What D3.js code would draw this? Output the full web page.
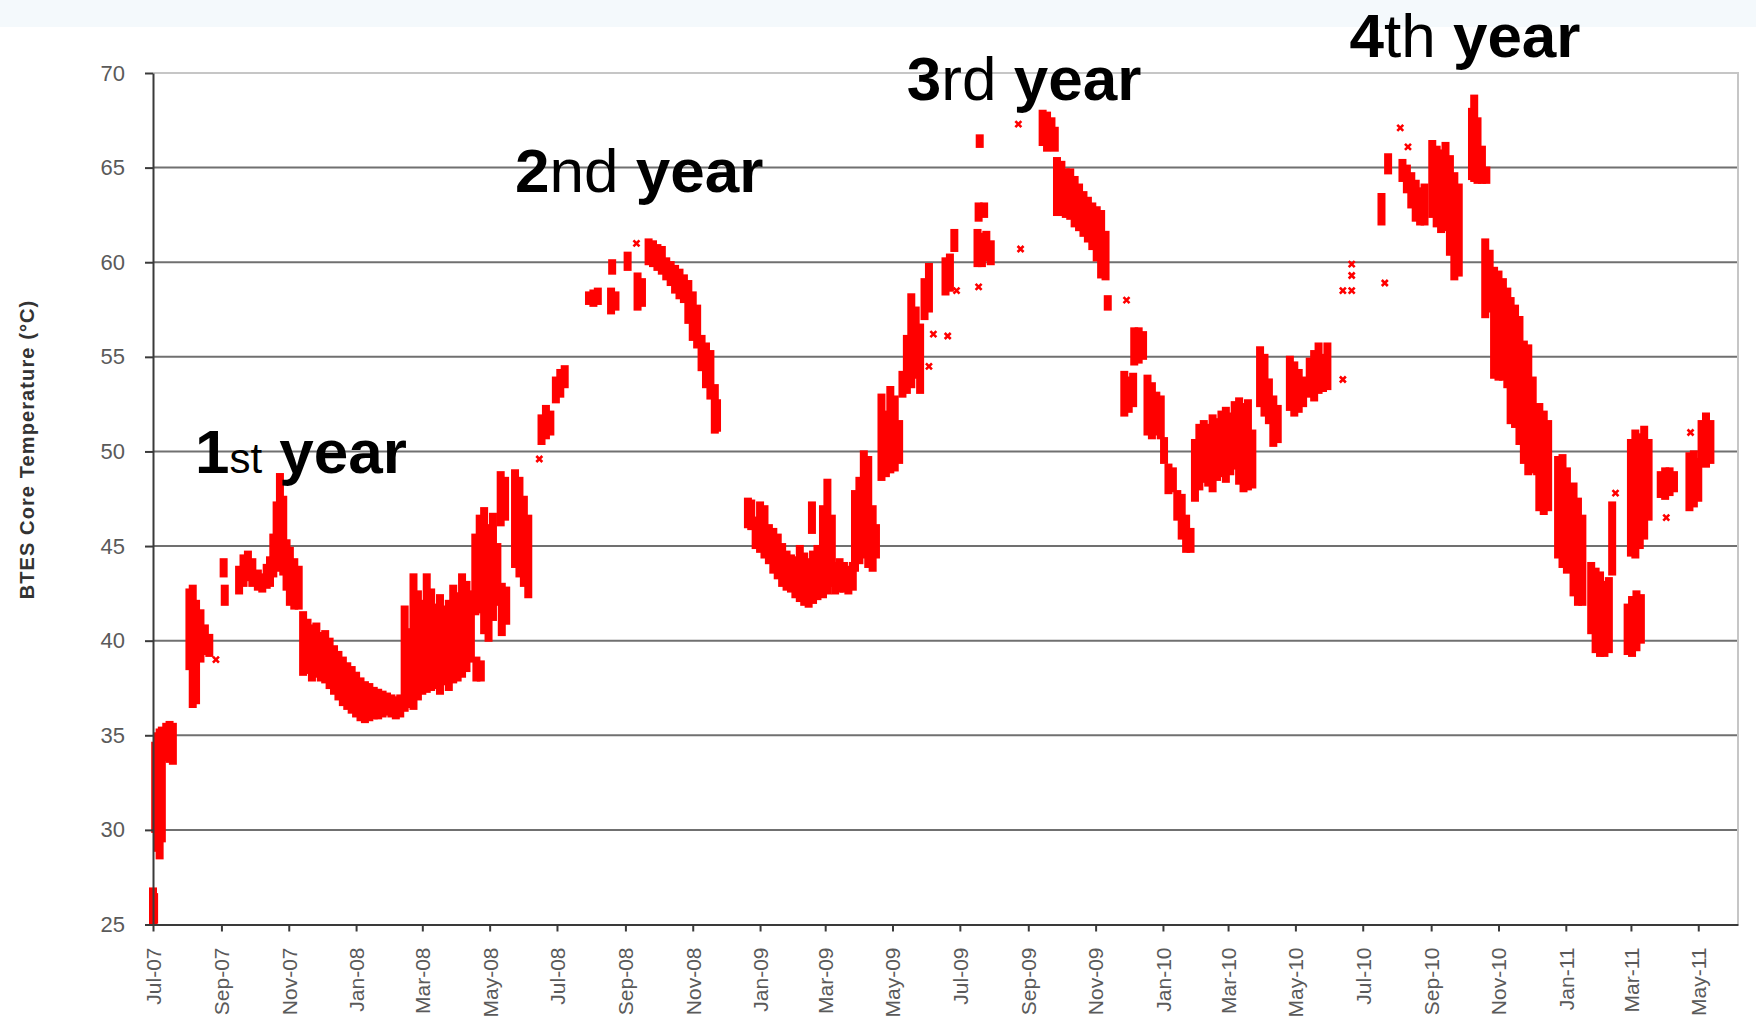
<!DOCTYPE html>
<html>
<head>
<meta charset="utf-8">
<title>BTES Core Temperature</title>
<script src="https://cdn.jsdelivr.net/npm/d3@7"></script>
<style>
  html, body { margin: 0; padding: 0; background: #ffffff; }
  svg { display: block; font-family: "Liberation Sans", Arial, Helvetica, sans-serif; }
</style>
</head>
<body>
<svg id="chart" width="1756" height="1022"></svg>
<script>
// ---- Axis ticks ----
const tempTicks = [25, 30, 35, 40, 45, 50, 55, 60, 65, 70];
const monthTicks = [
  "2007-07-01","2007-09-01","2007-11-01","2008-01-01","2008-03-01","2008-05-01",
  "2008-07-01","2008-09-01","2008-11-01","2009-01-01","2009-03-01","2009-05-01",
  "2009-07-01","2009-09-01","2009-11-01","2010-01-01","2010-03-01","2010-05-01",
  "2010-07-01","2010-09-01","2010-11-01","2011-01-01","2011-03-01","2011-05-01"
];

// ---- Core temperature readings: daily spread (low/high, °C) by season ----
const year1Dates = [
  "2007-07-01","2007-07-02","2007-07-03","2007-07-05","2007-07-07","2007-07-09","2007-07-13","2007-07-16","2007-07-19",
  "2007-08-03","2007-08-06","2007-08-09","2007-08-13","2007-08-17","2007-08-21",
  "2007-09-03","2007-09-04","2007-09-17","2007-09-21","2007-09-25","2007-09-29",
  "2007-10-04","2007-10-08","2007-10-12","2007-10-15","2007-10-18","2007-10-21","2007-10-24","2007-10-27","2007-10-30",
  "2007-11-02","2007-11-06","2007-11-10","2007-11-14","2007-11-18","2007-11-22","2007-11-26","2007-11-30",
  "2007-12-04","2007-12-08","2007-12-12","2007-12-16","2007-12-20","2007-12-24","2007-12-28",
  "2008-01-01","2008-01-05","2008-01-09","2008-01-13","2008-01-17","2008-01-21","2008-01-25","2008-01-29",
  "2008-02-02","2008-02-06","2008-02-10","2008-02-14","2008-02-18","2008-02-22","2008-02-26",
  "2008-03-01","2008-03-05","2008-03-09","2008-03-13","2008-03-17","2008-03-21","2008-03-25","2008-03-29",
  "2008-04-02","2008-04-06","2008-04-10","2008-04-14","2008-04-19","2008-04-23",
  "2008-04-18","2008-04-22","2008-04-26","2008-04-30","2008-05-04","2008-05-08",
  "2008-05-11","2008-05-15","2008-05-12","2008-05-16",
  "2008-05-24","2008-05-28","2008-06-01","2008-06-05",
  "2008-06-17","2008-06-21","2008-06-25","2008-06-30","2008-07-04","2008-07-08"
];
const year1Low = [
  25.1,25.2,30.0,29.0,28.6,29.5,33.8,33.7,33.6,
  38.6,36.6,36.8,39.0,39.4,39.3,
  43.5,42.0,42.6,43.0,43.3,43.0,
  42.8,42.7,42.9,43.0,43.5,44.0,43.8,43.6,42.8,
  42.0,41.8,41.8,38.3,38.4,38.0,38.2,38.0,
  37.9,37.6,37.3,37.0,36.7,36.5,36.3,
  36.1,35.9,35.8,35.9,36.0,36.0,36.1,36.2,
  36.1,36.0,36.1,36.4,36.6,36.5,37.0,
  37.3,37.4,37.5,37.6,37.3,37.8,37.5,37.9,
  38.0,38.2,38.5,39.0,38.0,38.0,
  41.5,41.6,40.5,40.1,41.2,42.0,
  46.2,46.5,40.4,41.0,
  44.0,43.5,43.0,42.4,
  50.5,50.8,51.0,52.7,53.0,53.5
];
const year1High = [
  26.8,26.5,34.5,35.0,35.2,35.3,35.5,35.6,35.5,
  42.6,42.8,42.0,41.5,40.7,40.2,
  44.2,42.8,43.8,44.4,44.6,44.2,
  43.6,43.4,43.9,44.3,45.5,47.2,48.7,47.5,45.2,
  44.8,44.2,43.8,41.4,41.0,40.7,40.8,40.3,
  40.4,40.0,39.6,39.3,39.0,38.7,38.5,
  38.2,37.9,37.7,37.6,37.4,37.3,37.2,37.1,
  37.0,36.9,37.0,41.7,40.5,43.4,42.5,
  42.0,43.4,42.6,41.8,42.3,41.7,42.0,42.8,
  42.4,43.4,43.0,42.5,39.0,38.8,
  45.5,46.5,46.9,46.0,46.6,45.0,
  48.8,48.5,42.9,42.7,
  48.9,48.5,47.5,46.5,
  51.8,52.3,52.0,53.8,54.2,54.4
];

const year2Dates = [
  "2008-07-30","2008-08-03","2008-08-07","2008-08-19","2008-08-20","2008-08-23",
  "2008-09-03","2008-09-12","2008-09-16","2008-09-22","2008-09-26","2008-09-30",
  "2008-10-04","2008-10-08","2008-10-12","2008-10-16","2008-10-20","2008-10-24","2008-10-28",
  "2008-11-01","2008-11-05","2008-11-09","2008-11-13","2008-11-17","2008-11-21","2008-11-23",
  "2008-12-21","2008-12-24","2008-12-28",
  "2009-01-01","2009-01-05","2009-01-09","2009-01-13","2009-01-17","2009-01-21","2009-01-25","2009-01-29",
  "2009-02-02","2009-02-06","2009-02-10","2009-02-14","2009-02-17","2009-02-18","2009-02-22","2009-02-27",
  "2009-03-03","2009-03-07","2009-03-10","2009-03-14","2009-03-18","2009-03-22","2009-03-26","2009-03-28",
  "2009-04-01","2009-04-05","2009-04-09","2009-04-13","2009-04-16","2009-04-21","2009-04-25","2009-04-29",
  "2009-05-03","2009-05-07","2009-05-10","2009-05-14","2009-05-18","2009-05-22","2009-05-26","2009-05-30",
  "2009-06-03","2009-06-18","2009-06-22","2009-06-26"
];
const year2Low = [
  57.9,57.8,57.9,57.4,59.5,57.6,
  59.7,57.6,57.8,60.0,59.9,59.7,
  59.5,59.2,58.9,58.5,58.2,58.0,56.9,
  56.0,55.6,54.4,53.5,52.9,51.1,51.2,
  46.1,46.0,45.0,
  44.8,44.5,44.2,43.7,43.4,43.0,42.8,42.7,
  42.4,42.2,42.0,41.9,45.8,42.1,42.3,42.4,
  42.6,43.0,42.6,42.7,42.7,42.6,42.8,43.8,
  44.2,44.5,44.0,43.8,44.5,48.6,48.8,49.0,
  49.1,49.5,53.0,53.2,53.5,54.0,53.2,57.1,
  57.5,58.4,58.6,60.7
];
const year2High = [
  58.3,58.4,58.5,58.5,60.0,58.3,
  60.4,59.3,59.0,61.1,61.0,60.8,
  60.7,60.1,59.9,59.7,59.5,59.2,58.9,
  58.3,57.6,56.0,55.6,55.2,53.4,52.6,
  47.4,47.3,46.4,
  47.2,47.0,46.0,45.8,45.5,45.0,44.6,44.4,
  44.3,44.9,44.5,44.2,47.2,44.6,44.9,47.0,
  48.4,46.5,44.0,44.2,44.0,43.8,44.0,47.8,
  48.5,49.9,49.6,47.0,46.0,52.9,52.0,53.3,
  52.8,51.5,54.1,56.0,58.2,57.5,56.6,59.0,
  59.8,60.1,60.3,61.6
];

const year3Dates = [
  "2009-07-17","2009-07-18","2009-07-19","2009-07-21","2009-07-23","2009-07-25","2009-07-29",
  "2009-09-14","2009-09-18","2009-09-22","2009-09-25","2009-09-27",
  "2009-10-01","2009-10-05","2009-10-09","2009-10-13","2009-10-17","2009-10-21","2009-10-25","2009-10-29",
  "2009-11-02","2009-11-06","2009-11-10","2009-11-12","2009-11-27",
  "2009-12-01","2009-12-05","2009-12-06","2009-12-10","2009-12-14","2009-12-18","2009-12-22","2009-12-26","2009-12-30",
  "2010-01-02","2010-01-06","2010-01-10","2010-01-14","2010-01-18","2010-01-22","2010-01-26","2010-01-30",
  "2010-02-03","2010-02-07","2010-02-11","2010-02-15","2010-02-19","2010-02-23","2010-02-27",
  "2010-03-03","2010-03-07","2010-03-11","2010-03-15","2010-03-19","2010-03-23","2010-03-30",
  "2010-04-03","2010-04-07","2010-04-11","2010-04-15","2010-04-26","2010-04-30",
  "2010-05-04","2010-05-08","2010-05-14","2010-05-18","2010-05-22","2010-05-26","2010-05-30"
];
const year3Low = [
  59.9,62.3,66.2,59.9,62.5,60.2,60.0,
  66.3,66.0,66.1,66.0,62.6,
  62.6,62.5,62.4,62.0,61.8,61.5,61.2,60.8,
  60.2,59.3,59.2,57.6,52.0,
  52.2,52.5,54.7,54.8,55.0,51.0,50.8,51.0,50.8,
  49.5,47.9,48.0,46.5,45.5,44.8,44.8,47.5,
  48.1,48.5,48.3,48.0,48.6,48.8,48.5,
  48.9,49.2,48.4,48.0,48.1,48.2,52.5,
  52.0,51.6,50.4,50.6,52.3,52.0,
  52.2,52.5,53.0,52.8,53.2,53.3,53.4
];
const year3High = [
  61.6,63.0,66.6,61.4,63.0,61.5,61.0,
  67.9,67.8,67.5,67.0,65.4,
  65.2,64.8,64.8,64.4,64.0,63.6,63.3,63.0,
  62.8,62.6,61.5,58.1,54.1,
  53.8,54.0,56.4,56.4,56.2,53.9,53.5,53.0,52.8,
  50.6,49.2,49.0,47.8,47.6,46.5,45.8,50.5,
  51.3,51.5,51.3,51.8,51.6,52.0,52.2,
  51.9,52.5,52.7,52.4,52.6,51.0,55.4,
  55.0,53.7,52.8,52.3,54.9,54.6,
  54.2,53.8,54.8,55.2,55.6,55.0,55.6
];

const year4Dates = [
  "2010-07-18","2010-07-24","2010-08-06","2010-08-10","2010-08-14","2010-08-18","2010-08-22","2010-08-26",
  "2010-09-02","2010-09-06","2010-09-10","2010-09-14","2010-09-18","2010-09-22","2010-09-26",
  "2010-10-08","2010-10-10","2010-10-13","2010-10-17","2010-10-21","2010-10-20","2010-10-24","2010-10-28",
  "2010-11-01","2010-11-05","2010-11-09","2010-11-12","2010-11-16","2010-11-20","2010-11-24","2010-11-28",
  "2010-12-02","2010-12-06","2010-12-08","2010-12-12","2010-12-16","2010-12-25","2010-12-29",
  "2011-01-02","2011-01-06","2011-01-08","2011-01-12","2011-01-16","2011-01-24","2011-01-28",
  "2011-02-01","2011-02-05","2011-02-09","2011-02-12","2011-02-26",
  "2011-03-02","2011-03-06","2011-03-10","2011-03-01","2011-03-05","2011-03-09","2011-03-13","2011-03-17",
  "2011-03-28","2011-04-01","2011-04-05","2011-04-09","2011-04-23","2011-04-27",
  "2011-05-01","2011-05-04","2011-05-08","2011-05-12"
];
const year4Low = [
  62.1,64.8,64.4,63.8,63.0,62.3,62.1,62.1,
  62.5,62.0,61.7,61.8,60.5,59.2,59.4,
  64.5,64.4,64.3,64.3,64.3,57.2,57.5,54.0,
  53.9,53.9,53.5,51.6,51.4,50.5,49.5,48.9,
  49.0,48.9,47.0,46.8,47.0,44.5,44.0,
  43.7,44.0,42.5,42.0,42.0,40.5,39.5,
  39.3,39.3,39.5,43.6,39.4,
  39.3,39.6,40.0,44.6,44.5,45.0,45.5,46.5,
  47.7,47.6,47.8,48.0,47.0,47.2,
  47.5,49.5,49.3,49.5
];
const year4High = [
  63.5,65.6,65.3,65.0,64.6,64.2,63.8,64.0,
  66.3,66.0,65.8,66.2,65.5,64.6,64.0,
  68.0,68.7,67.5,66.0,64.9,61.1,60.5,59.6,
  59.4,59.0,58.5,58.0,57.6,57.0,55.7,55.5,
  53.8,52.0,52.4,52.0,51.5,49.6,49.7,
  49.0,48.0,48.2,47.4,46.5,44.0,43.7,
  43.5,43.0,43.2,47.2,41.8,
  42.2,42.5,42.3,50.5,51.0,50.8,51.2,50.5,
  48.8,49.0,49.0,48.8,49.8,49.9,
  49.5,51.5,51.9,51.5
];

// ---- Isolated single readings ----
const spotDates = [
  "2007-08-27","2008-06-15","2008-09-11","2009-06-03","2009-06-07","2009-06-20","2009-06-28",
  "2009-07-18","2009-08-23","2009-08-25","2009-11-29","2010-06-13","2010-06-13","2010-06-21",
  "2010-06-21","2010-06-21","2010-07-21","2010-08-04","2010-08-11","2011-02-15","2011-04-02","2011-04-24"
];
const spotTemps = [
  39.0,49.6,61.0,54.5,56.2,56.1,58.5,
  58.7,67.3,60.7,58.0,53.8,58.5,58.5,
  59.3,59.9,58.9,67.1,66.1,47.8,46.5,51.0
];

// ---- Season annotations ----
const seasonNumbers = ["1", "2", "3", "4"];
const seasonSuffixes = ["st", "nd", "rd", "th"];
const seasonLabelDates = ["2007-08-08", "2008-05-24", "2009-05-14", "2010-06-19"];
const seasonLabelTemps = [48.86, 63.71, 68.58, 70.82];

// ---------------------------------------------------------------
const parse = d3.timeParse("%Y-%m-%d");
const svg = d3.select("#chart");

const x = d3.scaleTime()
  .domain([parse("2007-07-01"), parse("2011-06-06")])
  .range([153, 1738]);
const y = d3.scaleLinear()
  .domain([25, 70])
  .range([924.5, 73]);

const [x0, x1] = x.range();

// soft edge for the plotted readings
const defs = svg.append("defs");
defs.append("filter").attr("id", "soft")
  .attr("x", "-5%").attr("y", "-5%").attr("width", "110%").attr("height", "110%")
  .append("feGaussianBlur").attr("stdDeviation", 0.6);

// pale band along the top edge of the page
svg.append("rect")
  .attr("x", 0).attr("y", 0).attr("width", 1756).attr("height", 27)
  .attr("fill", "#f4f9fc");

// horizontal gridlines
svg.append("g")
  .selectAll("line")
  .data(tempTicks.filter(t => t > 25 && t < 70))
  .join("line")
  .attr("x1", x0).attr("x2", x1)
  .attr("y1", d => y(d)).attr("y2", d => y(d))
  .attr("stroke", "#707070").attr("stroke-width", 2);

// light frame on top and right of the plot area
svg.append("path")
  .attr("d", `M${x0},${y(70)}H${x1}V${y(25)}`)
  .attr("fill", "none").attr("stroke", "#c6c6c6").attr("stroke-width", 2);

// readings
function seasonRecords(dates, low, high) {
  return dates.map((d, i) => ({ date: parse(d), lo: low[i], hi: high[i] }));
}
const ranges = [].concat(
  seasonRecords(year1Dates, year1Low, year1High),
  seasonRecords(year2Dates, year2Low, year2High),
  seasonRecords(year3Dates, year3Low, year3High),
  seasonRecords(year4Dates, year4Low, year4High)
);
const spots = spotDates.map((d, i) => ({ date: parse(d), t: spotTemps[i] }));

const marks = svg.append("g").attr("filter", "url(#soft)");
marks.append("g").attr("fill", "#ff0000")
  .selectAll("rect")
  .data(ranges)
  .join("rect")
  .attr("x", d => x(d.date) - 4)
  .attr("width", 8)
  .attr("y", d => y(d.hi) - 3)
  .attr("height", d => y(d.lo) - y(d.hi) + 6);

marks.append("g")
  .attr("stroke", "#ff0000").attr("stroke-width", 2.6).attr("fill", "none")
  .selectAll("path")
  .data(spots)
  .join("path")
  .attr("d", d => {
    const cx = x(d.date), cy = y(d.t), r = 3;
    return `M${cx - r},${cy - r}L${cx + r},${cy + r}M${cx - r},${cy + r}L${cx + r},${cy - r}`;
  });

// y axis
const gy = svg.append("g")
  .attr("transform", `translate(${x0},0)`)
  .call(d3.axisLeft(y).tickValues(tempTicks).tickSize(8).tickSizeOuter(0).tickPadding(20));
gy.attr("font-family", null).attr("font-size", 22);
gy.select(".domain").attr("stroke", "#3a3a3a").attr("stroke-width", 2);
gy.selectAll(".tick line").attr("stroke", "#3a3a3a").attr("stroke-width", 2);
gy.selectAll(".tick text").attr("fill", "#5a5a5a");

// x axis
const gx = svg.append("g")
  .attr("transform", `translate(0,${y(25)})`)
  .call(d3.axisBottom(x)
    .tickValues(monthTicks.map(parse))
    .tickSize(7).tickSizeOuter(0)
    .tickFormat(d3.timeFormat("%b-%y")));
gx.attr("font-family", null).attr("font-size", 21);
gx.select(".domain").attr("stroke", "#3a3a3a").attr("stroke-width", 2);
gx.selectAll(".tick line").attr("stroke", "#3a3a3a").attr("stroke-width", 2);
gx.selectAll(".tick text")
  .attr("fill", "#5a5a5a")
  .attr("transform", "rotate(-90)")
  .attr("text-anchor", "end")
  .attr("x", -23).attr("y", 0).attr("dy", "0.35em");

// y axis title
svg.append("text")
  .attr("transform", "translate(27,449.5) rotate(-90)")
  .attr("text-anchor", "middle")
  .attr("dy", "0.35em")
  .attr("font-size", 20).attr("font-weight", "bold")
  .attr("letter-spacing", 1.1)
  .attr("fill", "#333333")
  .text("BTES Core Temperature (°C)");

// season labels
const labels = svg.append("g").attr("fill", "#000000").style("white-space", "pre");
seasonNumbers.forEach((n, i) => {
  const t = labels.append("text")
    .attr("x", x(parse(seasonLabelDates[i])))
    .attr("y", y(seasonLabelTemps[i]))
    .attr("font-size", 62);
  t.append("tspan").attr("font-weight", "bold").text(n);
  t.append("tspan").attr("font-weight", "normal")
    .attr("font-size", i === 0 ? 42 : 62).text(seasonSuffixes[i]);
  t.append("tspan").attr("font-weight", "bold").text(" year");
});
</script>
</body>
</html>
